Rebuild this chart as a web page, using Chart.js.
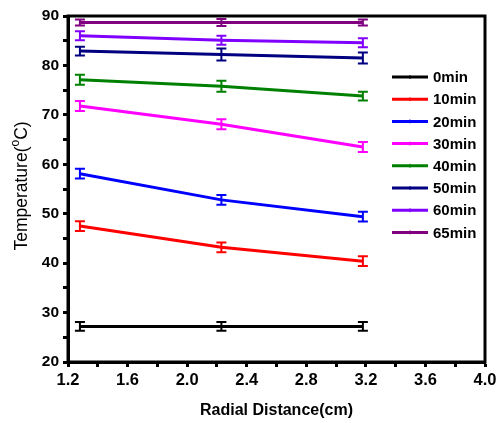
<!DOCTYPE html>
<html>
<head>
<meta charset="utf-8">
<script src="https://cdn.jsdelivr.net/npm/chart.js@4/dist/chart.umd.min.js"></script>
<style>
  html, body { margin: 0; padding: 0; background: #fff; }
  #wrap { width: 501px; height: 423px; }
</style>
</head>
<body>
<div id="wrap"><canvas id="tempChart" width="501" height="423"></canvas></div>
<script>
// radial distance of the three probes (cm)
const distance = [1.28, 2.23, 3.18];

// temperature readings (°C)
const t0 = [27.2, 27.2, 27.2];
const t10 = [47.5, 43.2, 40.4];
const t20 = [58.1, 52.8, 49.4];
const t30 = [71.8, 68.1, 63.5];
const t40 = [77.1, 75.8, 73.8];
const t50 = [82.9, 82.2, 81.5];
const t60 = [86.0, 85.1, 84.6];
const t65 = [88.7, 88.7, 88.7];

// error bar half-heights
const e0 = [0.9, 0.9, 0.9];
const e10 = [1.0, 1.0, 1.0];
const e20 = [1.0, 1.0, 1.0];
const e30 = [1.0, 1.0, 1.0];
const e40 = [1.0, 1.1, 0.9];
const e50 = [0.9, 1.2, 1.1];
const e60 = [0.9, 0.9, 0.9];
const e65 = [0.6, 0.7, 0.6];

const labels = ['0min', '10min', '20min', '30min', '40min', '50min', '60min', '65min'];
const colors = ['#000000', '#ff0000', '#0000ff', '#ff00ff', '#008000', '#000080', '#8000ff', '#800080'];
const series = [t0, t10, t20, t30, t40, t50, t60, t65];
const errors = [e0, e10, e20, e30, e40, e50, e60, e65];

const FONT = '"Liberation Sans", Arial, sans-serif';

const datasets = series.map((vals, i) => ({
    label: labels[i],
    data: vals.map((v, j) => ({ x: distance[j], y: v })),
    err: errors[i],
    borderColor: colors[i],
    backgroundColor: colors[i],
    borderWidth: 3,
    showLine: true,
    pointRadius: 0,
    clip: false
}));

// error bars, frame, y title and legend
const extras = {
    id: 'extras',
    afterDatasetsDraw(chart) {
        const ctx = chart.ctx;
        const xs = chart.scales.x, ys = chart.scales.y;
        chart.data.datasets.forEach(ds => {
            ctx.save();
            ctx.strokeStyle = ds.borderColor;
            ctx.lineWidth = 2;
            ds.data.forEach((p, j) => {
                const px = xs.getPixelForValue(p.x);
                const top = ys.getPixelForValue(p.y + ds.err[j]);
                const bot = ys.getPixelForValue(p.y - ds.err[j]);
                ctx.beginPath();
                ctx.moveTo(px, top); ctx.lineTo(px, bot);
                ctx.moveTo(px - 5, top); ctx.lineTo(px + 5, top);
                ctx.moveTo(px - 5, bot); ctx.lineTo(px + 5, bot);
                ctx.stroke();
            });
            ctx.restore();
        });
    },
    afterDraw(chart) {
        const ctx = chart.ctx;
        const a = chart.chartArea;
        ctx.save();
        // frame
        ctx.strokeStyle = '#000';
        ctx.lineWidth = 3;
        ctx.strokeRect(a.left, a.top, a.right - a.left, a.bottom - a.top);

        // y axis title with superscript
        ctx.fillStyle = '#000';
        ctx.translate(22, 186);
        ctx.rotate(-Math.PI / 2);
        ctx.textBaseline = 'middle';
        const main = '17.5px ' + FONT, sup = '12px ' + FONT;
        ctx.font = main;
        const w1 = ctx.measureText('Temperature(').width;
        const w3 = ctx.measureText('C)').width;
        ctx.font = sup;
        const w2 = ctx.measureText('o').width;
        let x = -(w1 + w2 + w3) / 2;
        ctx.font = main;
        ctx.textAlign = 'left';
        ctx.fillText('Temperature(', x, 0);
        x += w1;
        ctx.font = sup;
        ctx.fillText('o', x, -6);
        x += w2;
        ctx.font = main;
        ctx.fillText('C)', x, 0);
        ctx.restore();

        // legend
        ctx.save();
        ctx.font = 'bold 15px ' + FONT;
        ctx.textBaseline = 'middle';
        ctx.textAlign = 'left';
        chart.data.datasets.forEach((ds, i) => {
            const y = 77 + i * 22.2;
            ctx.strokeStyle = ds.borderColor;
            ctx.lineWidth = 3;
            ctx.beginPath();
            ctx.moveTo(392, y); ctx.lineTo(428, y);
            ctx.stroke();
            ctx.lineWidth = 1;
            ctx.beginPath();
            ctx.moveTo(410, y - 2); ctx.lineTo(410, y + 2);
            ctx.stroke();
            ctx.fillStyle = '#000';
            ctx.fillText(ds.label, 433, y + 1);
        });
        ctx.restore();
    }
};

new Chart(document.getElementById('tempChart'), {
    type: 'scatter',
    data: { datasets: datasets },
    options: {
        responsive: false,
        animation: false,
        layout: { padding: { top: 16, right: 16, left: 0, bottom: 0 } },
        plugins: { legend: { display: false }, tooltip: { enabled: false } },
        scales: {
            x: {
                type: 'linear',
                min: 1.2,
                max: 4.0,
                afterFit: s => { s.height = 61; },
                border: { display: true, color: '#000', width: 3 },
                grid: { drawOnChartArea: false, tickLength: 5, tickColor: '#000', tickWidth: 3 },
                ticks: {
                    stepSize: 0.2,
                    padding: 4,
                    color: '#000',
                    font: { family: FONT, size: 16.5, weight: 'bold' },
                    maxRotation: 0,
                    autoSkip: false,
                    callback: (v, i) => (i % 2 === 0 ? v.toFixed(1) : '')
                },
                title: {
                    display: true,
                    text: 'Radial Distance(cm)',
                    color: '#000',
                    font: { family: FONT, size: 16, weight: 'bold' },
                    padding: { top: 0, bottom: 3 }
                }
            },
            y: {
                min: 20,
                max: 90,
                afterFit: s => { s.width = 68; },
                border: { display: true, color: '#000', width: 3 },
                grid: { drawOnChartArea: false, tickLength: 5, tickColor: '#000', tickWidth: 3 },
                ticks: {
                    stepSize: 5,
                    padding: 4,
                    color: '#000',
                    font: { family: FONT, size: 15.5, weight: 'bold' },
                    autoSkip: false,
                    callback: v => (v % 10 === 0 ? String(v) : '')
                }
            }
        }
    },
    plugins: [extras]
});
</script>
</body>
</html>
